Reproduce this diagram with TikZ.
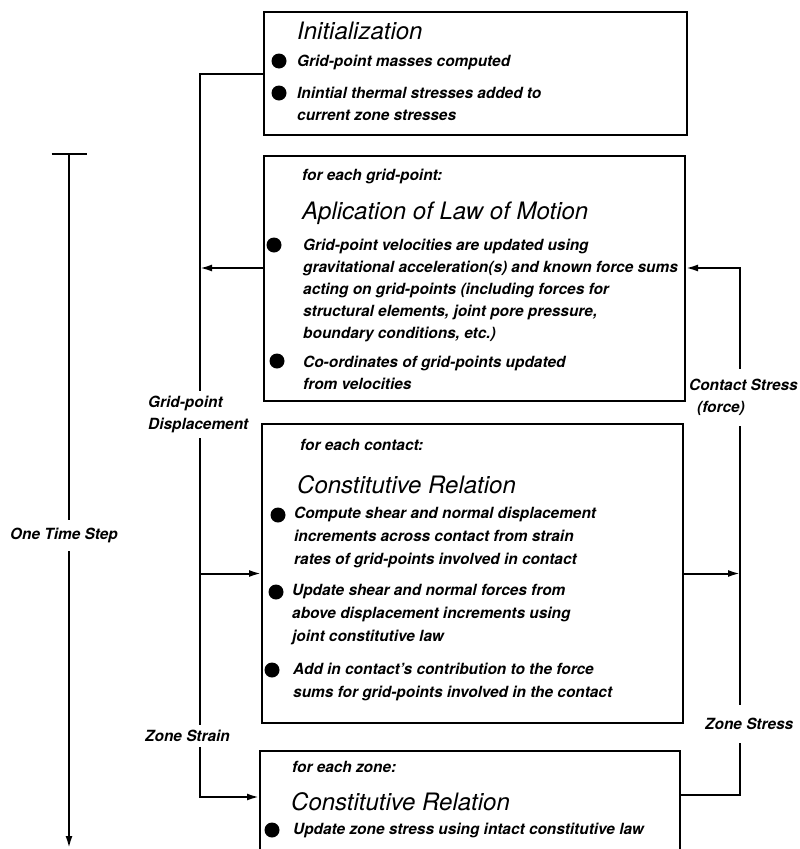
\documentclass[tikz,border=0pt]{standalone}
\usepackage{fontspec}
\setmainfont{TeX Gyre Heros}
\usetikzlibrary{arrows.meta}

\begin{document}
\begin{tikzpicture}
[x=1pt,y=-1pt,
  boxDecorate/.style={draw,line width=2pt,rectangle,inner sep=0pt,anchor=north west},
  titleDecorate/.style={anchor=base west,inner sep=0pt,font=\fontsize{24}{28}\selectfont\itshape},
  textDecorate/.style={anchor=base west,inner sep=0pt,align=left,font=\fontsize{15.4}{22}\selectfont\bfseries\itshape},
  textWideDecorate/.style={textDecorate,font=\fontsize{15.4}{23}\selectfont\bfseries\itshape},
  labelDecorate/.style={textDecorate,inner sep=5pt},
  bulletDecorate/.style={shape=circle,fill,inner sep=0pt,minimum size=15pt},
  lineDecorate/.style={line width=2pt},
  arrowDecorate/.style={lineDecorate,-{Latex[length=12pt,width=7pt]}}]
\useasboundingbox (0,0) rectangle (800,849);
\clip (0,0) rectangle (800,849);
%% boxes
\node (init) at (263,11) [boxDecorate,minimum width=423pt,minimum height=123pt] {};
\node (motion) at (263,155) [boxDecorate,minimum width=421pt,minimum height=245pt] {};
\node (contact) at (261,423) [boxDecorate,minimum width=421pt,minimum height=299pt] {};
\node (zone) at (259,750) [boxDecorate,minimum width=420pt,minimum height=140pt] {};
%% texts (multi-line nodes sit on their last baseline)
\node (initTitle) at (297,39.5) [titleDecorate] {Initialization};
\node (initA) at (297,66.5) [textDecorate] {Grid-point masses computed};
\node (initB) at (297,120.5) [textDecorate] {Inintial thermal stresses added to\\current zone stresses};
\node (motionHead) at (302,180.5) [textDecorate] {for each grid-point:};
\node (motionTitle) at (302,219.5) [titleDecorate] {Aplication of Law of Motion};
\node (motionA) at (303,338.5) [textDecorate] {Grid-point velocities are updated using\\gravitational acceleration(s) and known force sums\\acting on grid-points (including forces for\\structural elements, joint pore pressure,\\boundary conditions, etc.)};
\node (motionB) at (303,389.5) [textDecorate] {Co-ordinates of grid-points updated\\from velocities};
\node (contactHead) at (300,450.5) [textDecorate] {for each contact:};
\node (contactTitle) at (297,493.5) [titleDecorate] {Constitutive Relation};
\node (contactA) at (294,564.5) [textWideDecorate] {Compute shear and normal displacement\\increments across contact from strain\\rates of grid-points involved in contact};
\node (contactB) at (292,641.5) [textWideDecorate] {Update shear and normal forces from\\above displacement increments using\\joint constitutive law};
\node (contactC) at (293,697.5) [textWideDecorate] {Add in contact's contribution to the force\\sums for grid-points involved in the contact};
\node (zoneHead) at (292,772.5) [textDecorate] {for each zone:};
\node (zoneTitle) at (291,810.5) [titleDecorate] {Constitutive Relation};
\node (zoneA) at (293,834.5) [textDecorate] {Update zone stress using intact constitutive law};
%% bullets
\foreach \dotname/\x/\y in {
  initDotA/279/61, initDotB/279/93,
  motionDotA/274/245, motionDotB/277/361,
  contactDotA/278/515, contactDotB/276/592, contactDotC/272/670,
  zoneDotA/272/830}
{
  \node (\dotname) at (\x,\y) [bulletDecorate] {};
}
%% labels
\node (gpDisp) at (143,429.5) [labelDecorate] {Grid-point\\Displacement};
\node (zoneStrain) at (140,741.5) [labelDecorate] {Zone Strain};
\node (contactStress) at (684,412.5) [labelDecorate,inner ysep=10pt] {Contact Stress\\\hspace*{8pt}(force)};
\node (zoneStress) at (700,729.5) [labelDecorate,inner ysep=13pt] {Zone Stress};
\node (oneStep) at (5,539.5) [labelDecorate,inner ysep=8pt] {One Time Step};
%% rails and ports
\coordinate (leftRail) at (200,0);
\coordinate (rightRail) at (740,0);
\coordinate (motionPort) at (0,268);
\coordinate (zonePortIn) at (0,797);
\coordinate (zonePortOut) at (0,795);
\coordinate (stepTop) at (69,153);
\coordinate (stepEnd) at (69,848);
%% edges or lines
\draw[lineDecorate] (init.west) -| (gpDisp.north -| leftRail);
\draw[arrowDecorate] (motion.west |- motionPort) -- (leftRail |- motionPort);
\draw[lineDecorate] (gpDisp.south -| leftRail) -- (zoneStrain.north -| leftRail);
\draw[arrowDecorate] (leftRail |- contact.west) -- (contact.west);
\draw[arrowDecorate] (zoneStrain.south -| leftRail) |- (zone.west |- zonePortIn);
\draw[arrowDecorate] (contactStress.north -| rightRail) |- (motion.east |- motionPort);
\draw[lineDecorate] (zoneStress.north -| rightRail) -- (contactStress.south -| rightRail);
\draw[arrowDecorate] (contact.east) -- (rightRail |- contact.east);
\draw[lineDecorate] (zone.east |- zonePortOut) -| (zoneStress.south -| rightRail);
\draw[lineDecorate,{Bar[width=35pt]}-] (stepTop) -- (oneStep.north -| stepTop);
\draw[arrowDecorate] (oneStep.south -| stepTop) -- (stepEnd);
\end{tikzpicture}
\end{document}
